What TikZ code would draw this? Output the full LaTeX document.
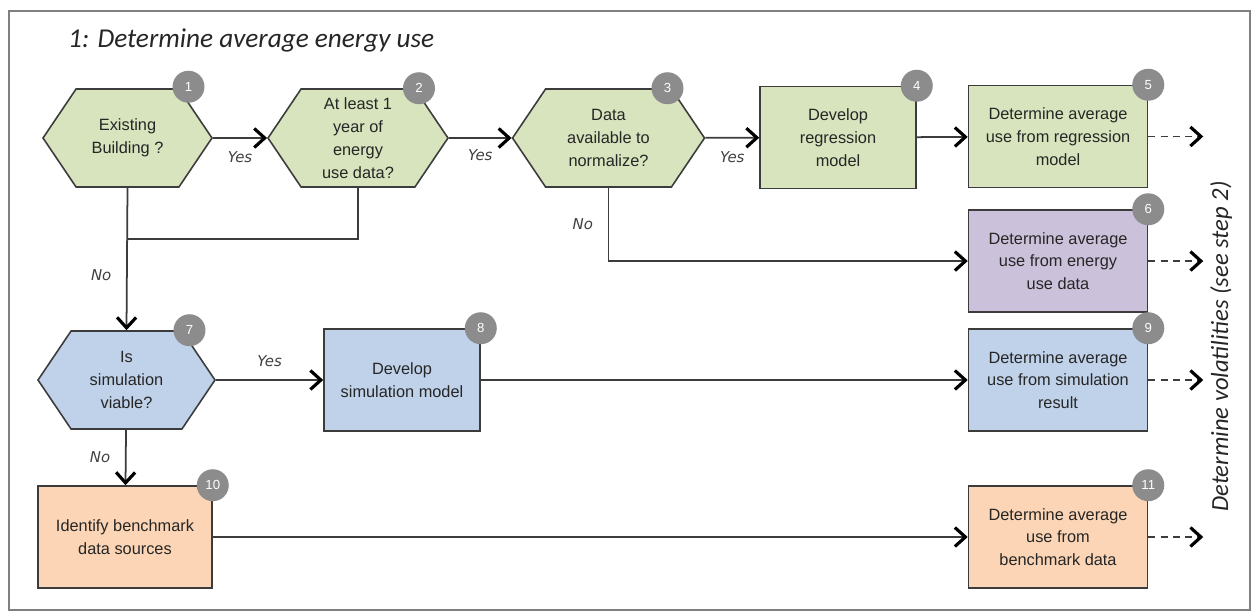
\documentclass[tikz,border=0pt]{standalone}
\usepackage{fontspec}
\setmainfont{Liberation Sans}
\newfontfamily\calibri{Carlito}
\newfontfamily\verdana{DejaVu Sans}
\usepackage{xcolor}
\usetikzlibrary{arrows.meta,positioning,shapes.symbols}
\definecolor{regrfill}{HTML}{D7E4BD}
\definecolor{datafill}{HTML}{CCC1DA}
\definecolor{simfill}{HTML}{BFD2EA}
\definecolor{benchfill}{HTML}{FBD5B5}
\definecolor{badgegray}{HTML}{8C8C8C}
\definecolor{linegray}{HTML}{3C3C3C}
\definecolor{framegray}{HTML}{808080}
\tikzset{
  flowdecision/.style = {
    signal,
    signal to=west and east,
    signal pointer angle=112,
    draw=linegray,
    line width=0.9pt,
    align=center,
    inner sep=1pt,
    text=black!85,
    font=\fontsize{9.3}{13}\selectfont,
    minimum height=1.96cm
  },
  flowproc/.style = {
    rectangle,
    draw=linegray,
    line width=0.9pt,
    align=center,
    text=black!85,
    font=\fontsize{9.3}{13}\selectfont,
    minimum width=3.58cm,
    minimum height=2.04cm
  },
  flowbadge/.style = {
    circle,
    fill=badgegray,
    text=white,
    inner sep=0pt,
    minimum size=0.64cm,
    font=\fontsize{7.5}{8}\selectfont
  },
  flowlabel/.style = {
    font=\verdana\itshape\fontsize{8.5}{10}\selectfont,
    text=black!75
  },
  flowline/.style = {
    draw=linegray,
    line width=1pt
  },
  flowarrow/.style = {
    flowline,
    -{Straight Barb[length=2.1mm,width=3.8mm,line width=1.8pt,color=black]}
  },
  flowdash/.style = {
    flowarrow,
    dash pattern=on 4pt off 3pt
  }
}

\begin{document}
\begin{tikzpicture}[x=0.02cm, y=-0.02cm, node distance=0.42cm]
    \useasboundingbox (0,0) rectangle (1254,613);
    \draw[framegray, line width=1.5pt] (9,11) rectangle (1250,610);
    \node[anchor=west, text=black!85, font=\calibri\itshape\fontsize{15.5}{18}\selectfont] (title) at (62,40) {1: Determine average energy use};

    % first row
    \node[flowdecision, fill=regrfill, minimum width=3.38cm] (exist) at (127.5,138) {Existing\\Building ?};
    \node[flowdecision, fill=regrfill, minimum width=3.6cm] (yeardata) at (358,138) {At least 1\\year of\\energy\\use data?};
    \node[flowdecision, fill=regrfill, minimum width=3.84cm] (normdata) at (608.5,138) {Data\\available to\\normalize?};
    \node[flowproc, fill=regrfill, minimum width=3.12cm] (devregr) at (838,137.5) {Develop\\regression\\model};
    \node[flowproc, fill=regrfill] (avgregr) at (1058,136.5) {Determine average\\use from regression\\model};
    \node[flowproc, fill=datafill, below=of avgregr] (avgdata) {Determine average\\use from energy\\use data};

    % simulation and benchmark
    \node[flowdecision, fill=simfill, minimum width=3.54cm] (simviable) at (126.5,380) {Is\\simulation\\viable?};
    \node[flowproc, fill=simfill, minimum width=3.12cm] (devsim) at (402,380) {Develop\\simulation model};
    \node[flowproc, fill=simfill] (avgsim) at (1058,380) {Determine average\\use from simulation\\result};
    \node[flowproc, fill=benchfill, minimum width=3.48cm] (benchsrc) at (125,537) {Identify benchmark\\data sources};
    \node[flowproc, fill=benchfill] (avgbench) at (1058,537) {Determine average\\use from\\benchmark data};

    \node[rotate=90, anchor=east, text=black!85, font=\calibri\itshape\fontsize{14}{16}\selectfont] (volat) at (1221,175) {Determine volatilities (see step 2)};

    % connectors
    \coordinate (join) at (exist.south |- 0,239);
    \draw[flowarrow] (exist) -- node[flowlabel, below=4pt] {Yes} (yeardata);
    \draw[flowarrow] (yeardata) -- node[flowlabel, below=3pt] {Yes} (normdata);
    \draw[flowarrow] (normdata) -- node[flowlabel, below=4pt] {Yes} (devregr);
    \draw[flowarrow] (devregr) -- (avgregr);
    \draw[flowline] (yeardata.south) |- (join);
    \draw[flowarrow] (exist.south) -- node[flowlabel, left=5pt, pos=0.61] {No} (simviable.north);
    \draw[flowarrow] (normdata.south) |- node[flowlabel, left=5pt, pos=0.25] {No} (avgdata.west);
    \draw[flowarrow] (simviable) -- node[flowlabel, above=4pt] {Yes} (devsim);
    \draw[flowarrow] (simviable) -- node[flowlabel, left=5pt] {No} (benchsrc);
    \draw[flowarrow] (devsim) -- (avgsim);
    \draw[flowarrow] (benchsrc) -- (avgbench);
    \foreach \n in {avgregr, avgdata, avgsim, avgbench} {
      \coordinate (\n-out) at ([xshift=1.1cm]\n.east);
      \draw[flowdash] (\n.east) -- (\n-out);
    }

    % step numbers
    \node[flowbadge] (b1) at ([xshift=1.22cm, yshift=0.03cm]exist.north) {1};
    \node[flowbadge] (b2) at ([xshift=1.22cm]yeardata.north) {2};
    \node[flowbadge] (b3) at ([xshift=1.18cm]normdata.north) {3};
    \node[flowbadge] (b4) at (devregr.north east) {4};
    \node[flowbadge] (b5) at (avgregr.north east) {5};
    \node[flowbadge] (b6) at (avgdata.north east) {6};
    \node[flowbadge] (b7) at ([xshift=1.26cm]simviable.north) {7};
    \node[flowbadge] (b8) at (devsim.north east) {8};
    \node[flowbadge] (b9) at (avgsim.north east) {9};
    \node[flowbadge] (b10) at (benchsrc.north east) {10};
    \node[flowbadge] (b11) at (avgbench.north east) {11};
  \end{tikzpicture}
\end{document}
